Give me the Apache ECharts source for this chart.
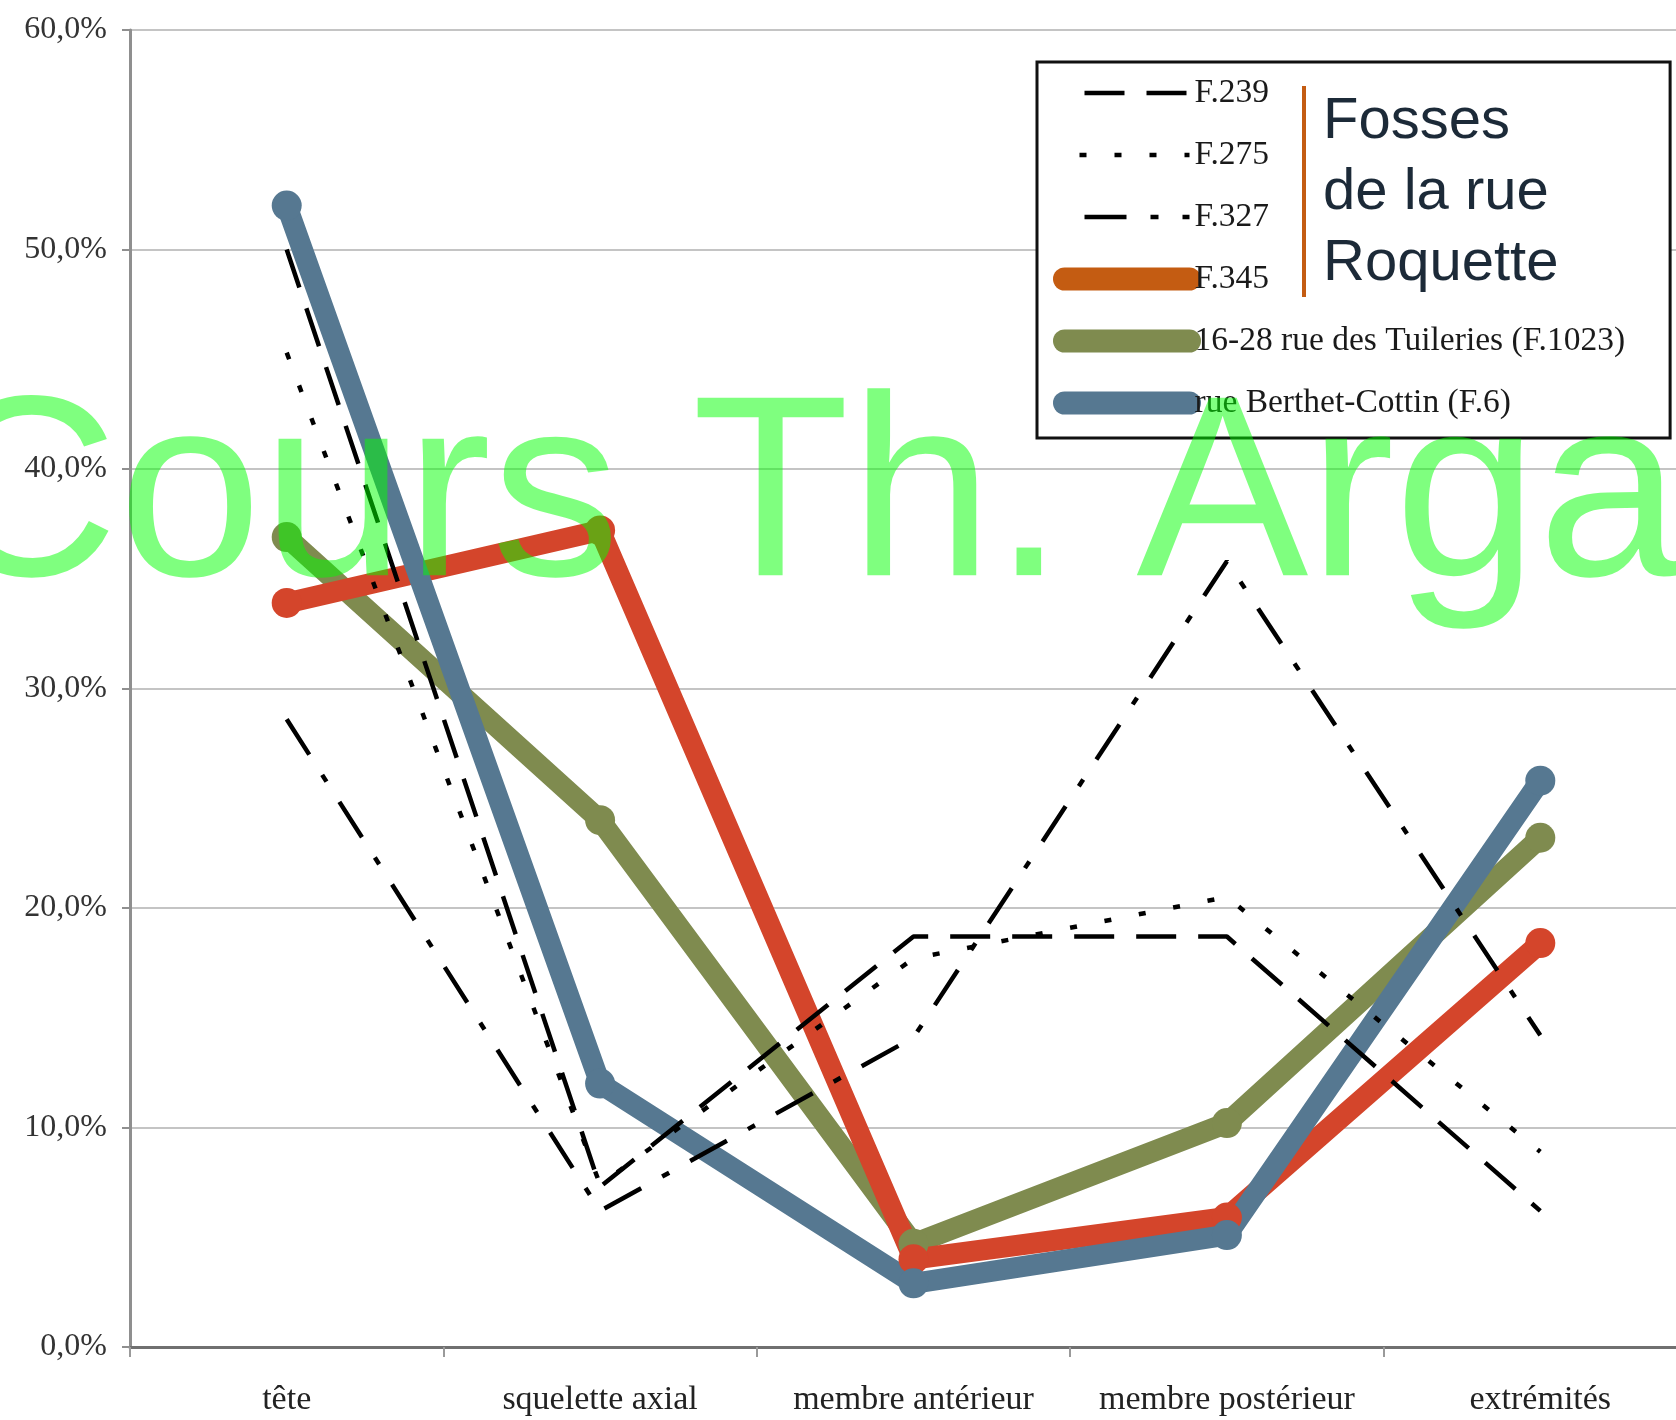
<!DOCTYPE html>
<html>
<head>
<meta charset="utf-8">
<script src="https://cdn.jsdelivr.net/npm/echarts@6/dist/echarts.min.js"></script>
<style>
  html, body { margin: 0; padding: 0; background: #ffffff; }
  #chart { width: 1676px; height: 1420px; }
</style>
</head>
<body>
<div id="chart"></div>
<script>
// Anatomical distribution of remains (% of the total per pit)
const categories = ['tête', 'squelette axial', 'membre antérieur', 'membre postérieur', 'extrémités'];

const f239  = [50.0, 7.3, 18.7, 18.7, 6.2];
const f275  = [45.3, 7.4, 17.7, 20.5, 8.9];
const f327  = [28.6, 6.2, 14.1, 35.8, 14.2];
const f345  = [33.9, 37.2, 4.0, 5.9, 18.4];
const f1023 = [36.9, 24.0, 4.7, 10.2, 23.2];
const f6    = [52.0, 12.0, 2.9, 5.1, 25.8];

const seriesNames = ['F.239', 'F.275', 'F.327', 'F.345',
  '16-28 rue des Tuileries (F.1023)', 'rue Berthet-Cottin (F.6)'];

const yMin = 0, yMax = 60, yStep = 10;

const groupTitle = ['Fosses', 'de la rue', 'Roquette'];
const watermark = 'Cours Th. Arga';

const serif = '"Liberation Serif", "Times New Roman", serif';
const sans = '"Liberation Sans", Arial, sans-serif';

const RED = '#d4452b', OLIVE = '#7f8b4f', BLUE = '#567891', ORANGE = '#c45c12';

function thick(name, data, color) {
  return {
    name, type: 'line', data, z: 2,
    symbol: 'circle', symbolSize: 30, showSymbol: true,
    itemStyle: { color },
    lineStyle: { color, width: 21, cap: 'round', join: 'round' }
  };
}
function dashed(name, data, pattern) {
  return {
    name, type: 'line', data, z: 5,
    symbol: 'none',
    lineStyle: { color: '#000', width: 4.5, type: pattern, cap: 'butt' }
  };
}

const chart = echarts.init(document.getElementById('chart'), null, { renderer: 'canvas' });

chart.setOption({
  animation: false,
  backgroundColor: '#ffffff',
  // the last category runs past the right edge of the page
  grid: {
    left: 130, top: 30, width: 1567, bottom: 73,
    containLabel: false, outerBoundsMode: 'none'
  },
  xAxis: {
    type: 'category',
    data: categories,
    boundaryGap: true,
    axisLine: { show: true, lineStyle: { color: '#707070', width: 3 } },
    axisTick: { show: true, interval: 0, length: 10, lineStyle: { color: '#9a9a9a', width: 2 } },
    axisLabel: { interval: 0, margin: 36, fontFamily: serif, fontSize: 34, color: '#222' },
    splitLine: { show: false }
  },
  yAxis: {
    type: 'value',
    min: yMin, max: yMax, interval: yStep,
    axisLine: { show: true, lineStyle: { color: '#8f8f8f', width: 3 } },
    axisTick: { show: true, length: 8, lineStyle: { color: '#8f8f8f', width: 2 } },
    axisLabel: {
      margin: 23, fontFamily: serif, fontSize: 32, color: '#333',
      formatter: v => v.toFixed(1).replace('.', ',') + '%'
    },
    splitLine: { show: true, lineStyle: { color: '#c4c4c4', width: 2 } }
  },
  legend: {
    orient: 'vertical',
    left: 1037, top: 62,
    padding: [12, 45, 16, 16],
    backgroundColor: '#ffffff',
    borderColor: '#111',
    borderWidth: 3,
    itemWidth: 125, itemHeight: 24, itemGap: 24,
    textStyle: { fontFamily: serif, fontSize: 33.5, color: '#1a1a1a', lineHeight: 38 },
    itemStyle: { opacity: 0 },
    data: [
      { name: seriesNames[0], lineStyle: { width: 4.5, dashOffset: 42 } },
      { name: seriesNames[1], lineStyle: { width: 4.5, dashOffset: 20 } },
      { name: seriesNames[2], lineStyle: { width: 4.5, dashOffset: 78 } },
      { name: seriesNames[3], lineStyle: { width: 23, color: ORANGE } },
      { name: seriesNames[4], lineStyle: { width: 23 } },
      { name: seriesNames[5], lineStyle: { width: 23 } }
    ]
  },
  series: [
    thick(seriesNames[4], f1023, OLIVE),
    thick(seriesNames[3], f345, RED),
    thick(seriesNames[5], f6, BLUE),
    dashed(seriesNames[0], f239, [40, 22]),
    dashed(seriesNames[1], f275, [7, 28]),
    dashed(seriesNames[2], f327, [42, 24, 8, 24])
  ],
  graphic: [
    {
      type: 'rect', z: 50,
      shape: { x: 1302, y: 86, width: 4, height: 211 },
      style: { fill: ORANGE }
    },
    {
      type: 'text', z: 50,
      top: 86, left: 1323,
      style: {
        text: groupTitle.join('\n'), font: '58px ' + sans, fill: '#1c2a38',
        lineHeight: 71, align: 'left'
      }
    },
    {
      type: 'text', z: 100, silent: true,
      left: -68, top: 375,
      style: {
        text: watermark, font: '258px ' + sans, fill: 'rgba(0,255,0,0.5)'
      }
    }
  ]
});
</script>
</body>
</html>
